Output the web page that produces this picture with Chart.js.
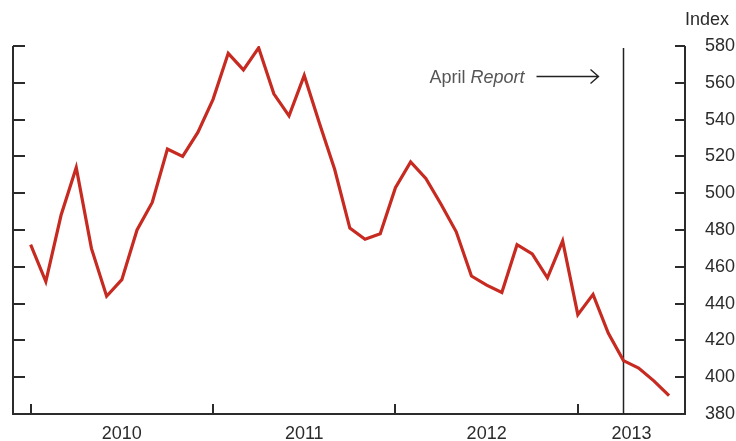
<!DOCTYPE html>
<html>
<head>
<meta charset="utf-8">
<script src="https://cdn.jsdelivr.net/npm/chart.js@4/dist/chart.umd.min.js"></script>
<style>
html, body { margin: 0; padding: 0; background: #fff; }
#wrap { width: 736px; height: 441px; }
</style>
</head>
<body>
<div id="wrap"><canvas id="indiceGrafic"></canvas></div>
<script>
// valores mensais, jan 2010 - jul 2013
var meses = ['2010-01','2010-02','2010-03','2010-04','2010-05','2010-06','2010-07','2010-08','2010-09','2010-10','2010-11','2010-12',
             '2011-01','2011-02','2011-03','2011-04','2011-05','2011-06','2011-07','2011-08','2011-09','2011-10','2011-11','2011-12',
             '2012-01','2012-02','2012-03','2012-04','2012-05','2012-06','2012-07','2012-08','2012-09','2012-10','2012-11','2012-12',
             '2013-01','2013-02','2013-03','2013-04','2013-05','2013-06','2013-07'];
var indice = [472, 452, 488, 514, 470, 444, 453, 480, 495, 524, 520, 533,
              551, 576, 567, 579, 554, 542, 564, 538, 513, 481, 475, 478,
              503, 517, 508, 494, 479, 455, 450, 446, 472, 467, 454, 474,
              434, 445, 424, 409, 405, 398, 390];
var anos = ['2010', '2011', '2012', '2013'];
var yTicks = [380, 400, 420, 440, 460, 480, 500, 520, 540, 560, 580];
var mesRelatorio = '2013-04';   // "April Report"

var fonte = "'Liberation Sans', Arial, Helvetica, sans-serif";
var xMin = -1.16, xMax = 43.05;

var pontos = indice.map(function(v, i){ return {x: i, y: v}; });

// eixos, marcas e anotacao desenhados a mao
var marcas = {
  id: 'marcas',
  beforeDatasetsDraw: function(chart){
    var ctx = chart.ctx, a = chart.chartArea, sx = chart.scales.x, sy = chart.scales.y;
    ctx.save();
    ctx.strokeStyle = '#2b2b2b';
    ctx.lineWidth = 2;
    ctx.beginPath();
    ctx.moveTo(a.left, a.top); ctx.lineTo(a.left, a.bottom);
    ctx.lineTo(a.right, a.bottom); ctx.lineTo(a.right, a.top);
    yTicks.forEach(function(v){
      var py = Math.round(sy.getPixelForValue(v));
      ctx.moveTo(a.left, py); ctx.lineTo(a.left + 12, py);
      ctx.moveTo(a.right, py); ctx.lineTo(a.right - 10, py);
    });
    anos.forEach(function(ano, i){
      var px = Math.round(sx.getPixelForValue(i * 12));
      ctx.moveTo(px, a.bottom); ctx.lineTo(px, a.bottom - 10);
    });
    ctx.stroke();

    // linha vertical do relatorio
    var rx = Math.round(sx.getPixelForValue(meses.indexOf(mesRelatorio))) + 0.5;
    ctx.lineWidth = 1.5;
    ctx.strokeStyle = '#222';
    ctx.beginPath();
    ctx.moveTo(rx, a.top + 2); ctx.lineTo(rx, a.bottom);
    ctx.stroke();

    // seta
    var ay = 76.5, ax1 = rx - 87, ax2 = rx - 25;
    ctx.lineWidth = 1.4;
    ctx.beginPath();
    ctx.moveTo(ax1, ay); ctx.lineTo(ax2, ay);
    ctx.moveTo(ax2 - 8, ay - 7); ctx.lineTo(ax2, ay); ctx.lineTo(ax2 - 8, ay + 7);
    ctx.stroke();

    // texto "April Report"
    ctx.fillStyle = '#555';
    ctx.textBaseline = 'alphabetic';
    ctx.textAlign = 'left';
    ctx.font = 'italic 18px ' + fonte;
    var wR = ctx.measureText('Report').width;
    ctx.font = '18px ' + fonte;
    var wA = ctx.measureText('April ').width;
    var tx = ax1 - 12 - wR - wA;
    ctx.fillText('April ', tx, 83);
    ctx.font = 'italic 18px ' + fonte;
    ctx.fillText('Report', tx + wA, 83);

    // titulo do eixo
    ctx.fillStyle = '#2b2b2b';
    ctx.font = '18px ' + fonte;
    ctx.textAlign = 'right';
    ctx.fillText('Index', 729, 25);
    ctx.restore();
  }
};

var ctx = document.getElementById('indiceGrafic');
var grafico = new Chart(ctx, {
  type: 'line',
  data: {
    datasets: [{
      data: pontos,
      borderColor: '#c62a20',
      borderWidth: 3.2,
      pointRadius: 0,
      tension: 0,
      fill: false
    }]
  },
  options: {
    responsive: true,
    maintainAspectRatio: false,
    animation: false,
    layout: { padding: { left: 13, top: 46, right: 0, bottom: 0 } },
    plugins: { legend: { display: false }, tooltip: { enabled: false } },
    scales: {
      x: {
        type: 'linear',
        min: xMin,
        max: xMax,
        grid: { display: false },
        border: { display: false },
        afterBuildTicks: function(scale){
          scale.ticks = anos.map(function(ano, i){
            var fim = Math.min(i * 12 + 12, xMax);
            return { value: (i * 12 + fim) / 2 };
          });
        },
        afterFit: function(scale){ scale.height = 27; },
        ticks: {
          autoSkip: false,
          maxRotation: 0,
          padding: 1,
          color: '#2b2b2b',
          font: { family: fonte, size: 18 },
          callback: function(v, i){ return anos[i]; }
        }
      },
      y: {
        position: 'right',
        min: 380,
        max: 580,
        grid: { display: false },
        border: { display: false },
        afterBuildTicks: function(scale){
          scale.ticks = yTicks.map(function(v){ return { value: v }; });
        },
        afterFit: function(scale){ scale.width = 51; },
        ticks: {
          padding: 12,
          color: '#2b2b2b',
          font: { family: fonte, size: 18 }
        }
      }
    }
  },
  plugins: [marcas]
});
</script>
</body>
</html>
